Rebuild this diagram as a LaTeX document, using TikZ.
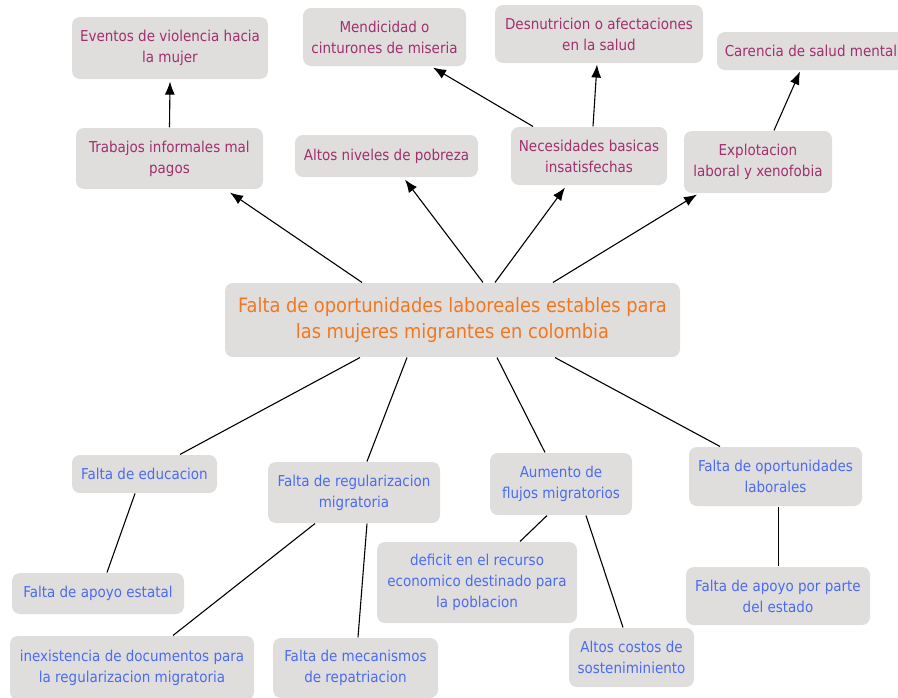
\documentclass[tikz,border=0pt]{standalone}
\usepackage{fontspec}
\setmainfont{DejaVu Sans Condensed}
\usepackage{tikz}
\usetikzlibrary{calc,arrows.meta}
\usepackage{xcolor}
\definecolor{cajagris}{RGB}{224,221,221}
\definecolor{textoefecto}{RGB}{160,48,110}
\definecolor{textocentro}{RGB}{240,120,32}
\definecolor{textocausa}{RGB}{74,108,240}

\begin{document}
\begin{tikzpicture}[x=1pt,y=-1pt,black,line width=1.1pt]
			\tikzset{caja/.style={rectangle, fill=cajagris, rounded corners=8pt, align=center, inner sep=2pt, font=\fontsize{15}{21}\selectfont},
				efecto/.style={caja, text=textoefecto},
				causa/.style={caja, text=textocausa},
				problema/.style={caja, text=textocentro, font=\fontsize{19.8}{26}\selectfont},
				flecha/.style={-{Latex[length=13pt,width=10pt]}}}
			\useasboundingbox (0,0) rectangle (898,697);
			% problema central
			\node[problema, minimum width=455pt, minimum height=74pt] at (452.5,320) (FO){Falta de oportunidades laboreales estables para\\las mujeres migrantes en colombia};
			% efectos
			\node[efecto, minimum width=196pt, minimum height=62pt] at (170,48) (EV){Eventos de violencia hacia\\la mujer};
			\node[efecto, minimum width=163pt, minimum height=58pt] at (384.5,37) (MEN){Mendicidad o\\cinturones de miseria};
			\node[efecto, minimum width=208pt, minimum height=58pt] at (599,34) (DES){Desnutricion o afectaciones\\en la salud};
			\node[efecto, minimum width=188pt, minimum height=38pt] at (811,51) (CAR){Carencia de salud mental};
			\node[efecto, minimum width=187pt, minimum height=61pt] at (169.5,158.5) (TR){Trabajos informales mal\\pagos};
			\node[efecto, minimum width=183pt, minimum height=42pt] at (386.5,156) (AN){Altos niveles de pobreza};
			\node[efecto, minimum width=156pt, minimum height=58pt] at (589,156) (NB){Necesidades basicas\\insatisfechas};
			\node[efecto, minimum width=148pt, minimum height=62pt] at (758,162) (EX){Explotacion\\laboral y xenofobia};
			% causas
			\node[causa, minimum width=145pt, minimum height=38pt] at (144.5,474) (ED){Falta de educacion};
			\node[causa, minimum width=172pt, minimum height=61pt] at (354,492.5) (RM){Falta de regularizacion\\migratoria};
			\node[causa, minimum width=142pt, minimum height=62pt] at (561,484) (AF){Aumento de\\flujos migratorios};
			\node[causa, minimum width=173pt, minimum height=59pt] at (775.5,476.5) (OL){Falta de oportunidades\\laborales};
			\node[causa, minimum width=172pt, minimum height=41pt] at (98,593.5) (AE){Falta de apoyo estatal};
			\node[causa, minimum width=200pt, minimum height=81pt] at (477,582.5) (DR){deficit en el recurso\\economico destinado para\\la poblacion};
			\node[causa, minimum width=184pt, minimum height=58pt] at (778,596) (AP){Falta de apoyo por parte\\del estado};
			\node[causa, minimum width=244pt, minimum height=64pt] at (132,668) (ID){inexistencia de documentos para\\la regularizacion migratoria};
			\node[causa, minimum width=165pt, minimum height=60pt] at (355.5,668) (MR){Falta de mecanismos\\de repatriacion};
			\node[causa, minimum width=125pt, minimum height=59pt] at (631.5,657.5) (AC){Altos costos de\\sosteniminiento};
			% flechas hacia los efectos
			\draw[flecha] ([xshift=-90.5pt]FO.north) -- ([xshift=60.5pt,yshift=-3pt]TR.south);
			\draw[flecha] ([xshift=30.5pt]FO.north) -- ([xshift=18.5pt,yshift=-2pt]AN.south);
			\draw[flecha] ([xshift=42.5pt]FO.north) -- ([xshift=-24pt,yshift=-2pt]NB.south);
			\draw[flecha] ([xshift=100.5pt]FO.north) -- ([xshift=-61pt,yshift=-1pt]EX.south);
			\draw[flecha] (TR.north) -- ([yshift=-2pt]EV.south);
			\draw[flecha] ([xshift=-56pt]NB.north) -- ([xshift=48.5pt,yshift=-1pt]MEN.south);
			\draw[flecha] ([xshift=4pt]NB.north) -- ([xshift=-2pt,yshift=-1pt]DES.south);
			\draw[flecha] ([xshift=16pt]EX.north) -- ([xshift=-11pt,yshift=-1pt]CAR.south);
			% lineas hacia las causas
			\draw ([xshift=-92.5pt]FO.south) -- ([xshift=35.5pt]ED.north);
			\draw ([xshift=-45.5pt]FO.south) -- ([xshift=13pt]RM.north);
			\draw ([xshift=44.5pt]FO.south) -- ([xshift=-16pt]AF.north);
			\draw ([xshift=102.5pt]FO.south) -- ([xshift=-55.5pt]OL.north);
			\draw ([xshift=-9.5pt]ED.south) -- ([xshift=9pt]AE.north);
			\draw ([xshift=-39pt]RM.south) -- ([xshift=41pt]ID.north);
			\draw ([xshift=13pt]RM.south) -- ([xshift=2.5pt]MR.north);
			\draw ([xshift=-14pt]AF.south) -- ([xshift=43pt]DR.north);
			\draw ([xshift=25pt]AF.south) -- ([xshift=-8.5pt]AC.north);
			\draw ([xshift=3.2pt]OL.south) -- ([xshift=0.7pt]AP.north);
	\end{tikzpicture}
\end{document}
